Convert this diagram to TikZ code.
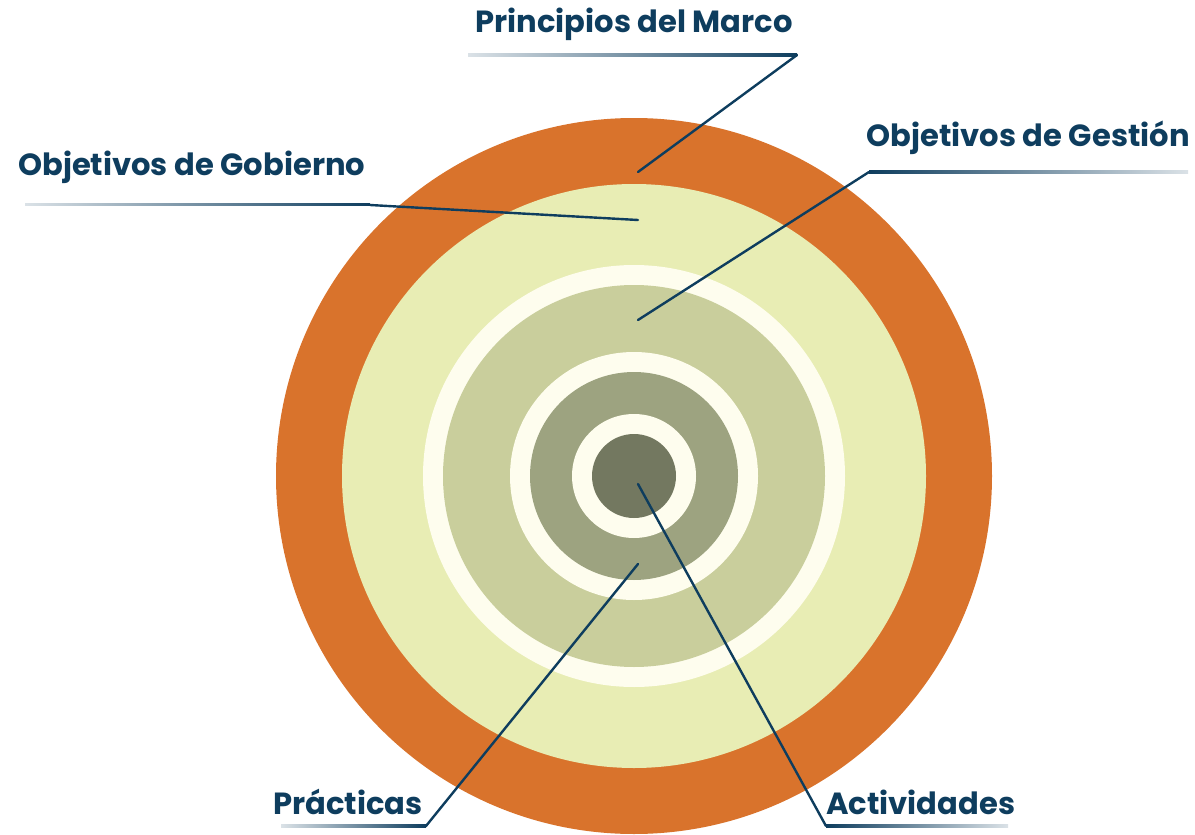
\documentclass[tikz,border=0pt]{standalone}
\usepackage{fontspec}
\setmainfont{Poppins}
\definecolor{navy}{HTML}{0E3D5E}
\definecolor{marco}{HTML}{D9732C}
\definecolor{gobierno}{HTML}{E8EDB4}
\definecolor{marfil}{HTML}{FEFDEE}
\definecolor{gestion}{HTML}{C9CE9C}
\definecolor{practica}{HTML}{9DA380}
\definecolor{actividad}{HTML}{737860}
\begin{document}
\begin{tikzpicture}[x=1pt, y=-1pt,
    tag/.style={font=\fontsize{30.6}{33}\selectfont\bfseries, text=navy, inner sep=0pt},
    lead/.style={draw=navy, line width=2.4pt, line cap=round}]
  \useasboundingbox (0, 0) rectangle (1195, 835);
  \coordinate (c) at (634, 476);
  % rings
  \fill [marco] (c) circle [radius=358];
  \fill [gobierno] (c) circle [radius=292];
  \fill [marfil] (c) circle [radius=211];
  \fill [gestion] (c) circle [radius=191];
  \fill [marfil] (c) circle [radius=124];
  \fill [practica] (c) circle [radius=104];
  \fill [marfil] (c) circle [radius=62];
  \fill [actividad] (c) circle [radius=42];
  % labels
  \node [tag] (principios) at (634, 24) {Principios del Marco};
  \node [tag, anchor = west] (gobierno) at (18, 167) {Objetivos de Gobierno};
  \node [tag, anchor = east] (gestion) at (1190, 138) {Objetivos de Gestión};
  \node [tag, anchor = west] (practicas) at (273, 802) {Prácticas};
  \node [tag, anchor = west] (actividades) at (826, 802) {Actividades};
  % leader lines
  \coordinate (p0) at (468, 55);   \coordinate (p1) at (797, 55);   \coordinate (p2) at (638, 172);
  \coordinate (g0) at (25, 204);   \coordinate (g1) at (370, 205);  \coordinate (g2) at (638, 220);
  \coordinate (e0) at (1188, 172); \coordinate (e1) at (869, 172);  \coordinate (e2) at (638, 320);
  \coordinate (r0) at (281, 826);  \coordinate (r1) at (426, 826);  \coordinate (r2) at (638, 564);
  \coordinate (a0) at (1008, 826); \coordinate (a1) at (826, 826);  \coordinate (a2) at (638, 484);
  \foreach \l in {p, g, r}
    \shade [left color = navy!15, right color = navy] ([yshift=-1.2pt]\l0) rectangle ([yshift=1.2pt]\l1);
  \foreach \l in {e, a}
    \shade [left color = navy, right color = navy!15] ([yshift=-1.2pt]\l1) rectangle ([yshift=1.2pt]\l0);
  \foreach \l in {p, g, e, r, a}
    \draw [lead] (\l1) -- (\l2);
\end{tikzpicture}
\end{document}
